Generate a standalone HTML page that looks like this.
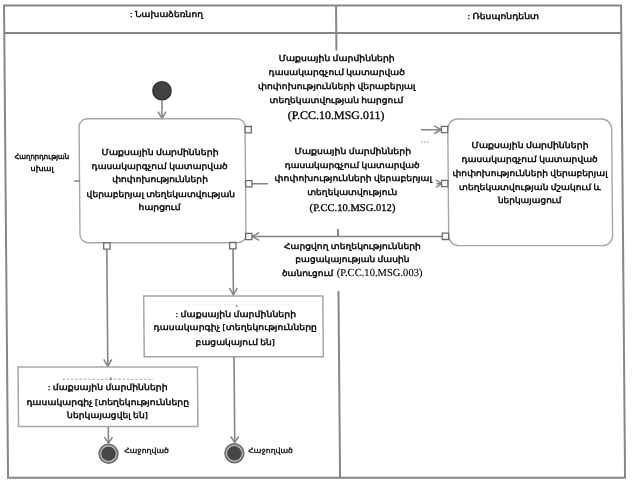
<!DOCTYPE html>
<html><head><meta charset="utf-8"><style>
html,body{margin:0;padding:0;background:#fff;width:632px;height:485px;overflow:hidden}
svg{display:block;filter:grayscale(100%) blur(0.3px)}
text{font-family:"Liberation Serif", serif;fill:#000;stroke:#000;stroke-width:0.42px;text-rendering:geometricPrecision}
</style></head><body>
<svg width="632" height="485" viewBox="0 0 632 485">
<rect width="632" height="485" fill="#fff"/>
<g transform="matrix(1 0 0.008475 1 0 0)">
<rect x="4" y="5.4" width="617" height="472.4" fill="none" stroke="#868686" stroke-width="2"/>
<line x1="4" y1="33" x2="621" y2="33" stroke="#868686" stroke-width="2"/>
<line x1="336" y1="5.4" x2="336" y2="50.6" stroke="#868686" stroke-width="2"/>
<line x1="336" y1="229" x2="336" y2="236.5" stroke="#868686" stroke-width="2"/>
<line x1="336" y1="291" x2="336" y2="477.8" stroke="#868686" stroke-width="2"/>
<circle cx="161.2" cy="90.7" r="9.2" fill="#424242" stroke="#2a2a2a" stroke-width="1.2"/>
<line x1="161.10" y1="100" x2="161.10" y2="118.5" stroke="#858585" stroke-width="1.6"/>
<polyline points="157.10,111.7 161.10,118.5 165.10,111.7" fill="none" stroke="#858585" stroke-width="1.5"/>
<rect x="78" y="118.8" width="166" height="123.9" rx="8" fill="none" stroke="#a6a6a6" stroke-width="1.4"/>
<rect x="446.7" y="119" width="163.9" height="126.6" rx="10" fill="none" stroke="#a6a6a6" stroke-width="1.4"/>
<line x1="72.80" y1="181" x2="78.00" y2="181" stroke="#858585" stroke-width="1.6"/>
<line x1="419.90" y1="129.7" x2="440.20" y2="129.7" stroke="#858585" stroke-width="1.6"/>
<polyline points="433.20,125.89999999999999 440.20,129.7 433.20,133.5" fill="none" stroke="#858585" stroke-width="1.5"/>
<line x1="250.70" y1="183.7" x2="266.30" y2="183.7" stroke="#858585" stroke-width="1.6"/>
<polyline points="434.40,179.89999999999998 439.90,183.7 434.40,187.5" fill="none" stroke="#858585" stroke-width="1.5"/>
<line x1="434.60" y1="183.7" x2="439.90" y2="183.7" stroke="#858585" stroke-width="1.6"/>
<line x1="250.20" y1="236.5" x2="440.30" y2="236.5" stroke="#858585" stroke-width="1.6"/>
<polyline points="257.20,232.7 250.20,236.5 257.20,240.3" fill="none" stroke="#858585" stroke-width="1.5"/>
<rect x="244.00" y="126.5" width="6.3" height="6.3" fill="#fff" stroke="#6a6a6a" stroke-width="1.3"/>
<rect x="244.10" y="180.6" width="6.3" height="6.3" fill="#fff" stroke="#6a6a6a" stroke-width="1.3"/>
<rect x="243.60" y="233.3" width="6.3" height="6.3" fill="#fff" stroke="#6a6a6a" stroke-width="1.3"/>
<rect x="101.60" y="242.9" width="6.3" height="6.3" fill="#fff" stroke="#6a6a6a" stroke-width="1.3"/>
<rect x="227.60" y="242.5" width="6.3" height="6.3" fill="#fff" stroke="#6a6a6a" stroke-width="1.3"/>
<rect x="440.30" y="126.3" width="6.3" height="6.3" fill="#fff" stroke="#6a6a6a" stroke-width="1.3"/>
<rect x="440.00" y="180.4" width="6.3" height="6.3" fill="#fff" stroke="#6a6a6a" stroke-width="1.3"/>
<rect x="440.30" y="233.2" width="6.3" height="6.3" fill="#fff" stroke="#6a6a6a" stroke-width="1.3"/>
<line x1="104.70" y1="249.2" x2="104.70" y2="366.6" stroke="#858585" stroke-width="1.6"/>
<polyline points="100.70,359.4 104.70,366.4 108.70,359.4" fill="none" stroke="#858585" stroke-width="1.5"/>
<line x1="230.90" y1="248.8" x2="230.90" y2="295.5" stroke="#858585" stroke-width="1.6"/>
<polyline points="226.90,287.8 230.90,294.8 234.90,287.8" fill="none" stroke="#858585" stroke-width="1.5"/>
<rect x="141.2" y="296" width="179.1" height="60.8" fill="none" stroke="#a6a6a6" stroke-width="1.5"/>
<rect x="14.9" y="367" width="179.4" height="59.6" fill="none" stroke="#a6a6a6" stroke-width="1.5"/>
<line x1="104.70" y1="427" x2="104.70" y2="443.2" stroke="#858585" stroke-width="1.6"/>
<polyline points="100.70,437.2 104.70,443.2 108.70,437.2" fill="none" stroke="#858585" stroke-width="1.5"/>
<line x1="231.00" y1="357" x2="231.00" y2="442.5" stroke="#858585" stroke-width="1.6"/>
<polyline points="227.00,436.5 231.00,442.5 235.00,436.5" fill="none" stroke="#858585" stroke-width="1.5"/>
<line x1="59.09" y1="379.3" x2="150.19" y2="379.3" stroke="#a8a8a8" stroke-width="1.1" stroke-dasharray="2.5 1.8"/>
<rect x="106.80" y="377.6" width="1.4" height="2.2" fill="#666"/>
<line x1="185.02" y1="304.6" x2="289.42" y2="304.6" stroke="#efefef" stroke-width="1" stroke-dasharray="2.5 1.5"/>
<rect x="233.41" y="305.2" width="1.4" height="1.6" fill="#666"/>
<line x1="419.80" y1="142" x2="428.80" y2="142" stroke="#aaa" stroke-width="1" stroke-dasharray="2 1"/>
<circle cx="104.66" cy="453.7" r="9.6" fill="#c8c8c8"/>
<circle cx="104.66" cy="453.7" r="9.3" fill="none" stroke="#707070" stroke-width="1.8"/>
<circle cx="104.66" cy="453.7" r="7.3" fill="#464646"/>
<circle cx="230.56" cy="453.3" r="9.6" fill="#c8c8c8"/>
<circle cx="230.56" cy="453.3" r="9.3" fill="none" stroke="#707070" stroke-width="1.8"/>
<circle cx="230.56" cy="453.3" r="7.3" fill="#464646"/>
<text transform="translate(0 16.50) scale(1 0.88) translate(0 -16.50)" x="129.98" y="16.50" font-size="9.5" textLength="72.9" lengthAdjust="spacingAndGlyphs">: Նախաձեռնող</text>
<text transform="translate(0 19.30) scale(1 0.88) translate(0 -19.30)" x="467.36" y="19.30" font-size="9.5" textLength="71.6" lengthAdjust="spacingAndGlyphs">: Ռեսպոնդենտ</text>
<text transform="translate(0 61.30) scale(1 0.88) translate(0 -61.30)" x="278.20" y="61.30" font-size="9.5" textLength="116.0" lengthAdjust="spacingAndGlyphs">Մաքսային մարմինների</text>
<text transform="translate(0 75.00) scale(1 0.88) translate(0 -75.00)" x="267.99" y="75.00" font-size="9.5" textLength="136.2" lengthAdjust="spacingAndGlyphs">դասակարգչում կատարված</text>
<text transform="translate(0 89.40) scale(1 0.88) translate(0 -89.40)" x="257.17" y="89.40" font-size="9.5" textLength="157.7" lengthAdjust="spacingAndGlyphs">փոփոխությունների վերաբերյալ</text>
<text transform="translate(0 102.90) scale(1 0.88) translate(0 -102.90)" x="268.65" y="102.90" font-size="9.5" textLength="133.7" lengthAdjust="spacingAndGlyphs">տեղեկատվության հարցում</text>
<text style="stroke-width:0.3px" x="286.81" y="119.30" font-size="11.6" textLength="96.6" lengthAdjust="spacingAndGlyphs">(P.CC.10.MSG.011)</text>
<text transform="translate(0 153.60) scale(1 0.88) translate(0 -153.60)" x="293.22" y="153.60" font-size="9.5" textLength="116.6" lengthAdjust="spacingAndGlyphs">Մաքսային մարմինների</text>
<text transform="translate(0 167.60) scale(1 0.88) translate(0 -167.60)" x="283.30" y="167.60" font-size="9.5" textLength="134.9" lengthAdjust="spacingAndGlyphs">դասակարգչում կատարված</text>
<text transform="translate(0 180.70) scale(1 0.88) translate(0 -180.70)" x="273.09" y="180.70" font-size="9.5" textLength="157.4" lengthAdjust="spacingAndGlyphs">փոփոխությունների վերաբերյալ</text>
<text transform="translate(0 194.70) scale(1 0.88) translate(0 -194.70)" x="305.57" y="194.70" font-size="9.5" textLength="90.0" lengthAdjust="spacingAndGlyphs">տեղեկատվություն</text>
<text style="stroke-width:0.3px" x="307.84" y="210.70" font-size="10.4" textLength="85.8" lengthAdjust="spacingAndGlyphs">(P.CC.10.MSG.012)</text>
<text transform="translate(0 248.50) scale(1 0.88) translate(0 -248.50)" x="281.82" y="248.50" font-size="9.5" textLength="137.0" lengthAdjust="spacingAndGlyphs">Հարցվող տեղեկությունների</text>
<text transform="translate(0 261.70) scale(1 0.88) translate(0 -261.70)" x="293.11" y="261.70" font-size="9.5" textLength="114.2" lengthAdjust="spacingAndGlyphs">բացակայության մասին</text>
<text transform="translate(0 275.90) scale(1 0.88) translate(0 -275.90)" x="279.58" y="275.90" font-size="9.5" textLength="51.5" lengthAdjust="spacingAndGlyphs">ծանուցում</text>
<text style="stroke-width:0.12px" x="334.38" y="276.30" font-size="10.7" textLength="85.8" lengthAdjust="spacingAndGlyphs">(P.CC.10.MSG.003)</text>
<text transform="translate(0 154.60) scale(1 0.88) translate(0 -154.60)" x="100.21" y="154.60" font-size="9.5" textLength="117.1" lengthAdjust="spacingAndGlyphs">Մաքսային մարմինների</text>
<text transform="translate(0 168.60) scale(1 0.88) translate(0 -168.60)" x="90.19" y="168.60" font-size="9.5" textLength="136.1" lengthAdjust="spacingAndGlyphs">դասակարգչում կատարված</text>
<text transform="translate(0 182.30) scale(1 0.88) translate(0 -182.30)" x="110.68" y="182.30" font-size="9.5" textLength="95.7" lengthAdjust="spacingAndGlyphs">փոփոխությունների</text>
<text transform="translate(0 196.60) scale(1 0.88) translate(0 -196.60)" x="84.96" y="196.60" font-size="9.5" textLength="148.5" lengthAdjust="spacingAndGlyphs">վերաբերյալ տեղեկատվության</text>
<text transform="translate(0 209.80) scale(1 0.88) translate(0 -209.80)" x="136.84" y="209.80" font-size="9.5" textLength="42.0" lengthAdjust="spacingAndGlyphs">հարցում</text>
<text transform="translate(0 147.90) scale(1 0.88) translate(0 -147.90)" x="470.27" y="147.90" font-size="9.5" textLength="117.1" lengthAdjust="spacingAndGlyphs">Մաքսային մարմինների</text>
<text transform="translate(0 161.90) scale(1 0.88) translate(0 -161.90)" x="460.25" y="161.90" font-size="9.5" textLength="136.1" lengthAdjust="spacingAndGlyphs">դասակարգչում կատարված</text>
<text transform="translate(0 176.00) scale(1 0.88) translate(0 -176.00)" x="451.03" y="176.00" font-size="9.5" textLength="155.1" lengthAdjust="spacingAndGlyphs">փոփոխությունների վերաբերյալ</text>
<text transform="translate(0 190.00) scale(1 0.88) translate(0 -190.00)" x="457.51" y="190.00" font-size="9.5" textLength="141.9" lengthAdjust="spacingAndGlyphs">տեղեկատվության մշակում և</text>
<text transform="translate(0 203.20) scale(1 0.88) translate(0 -203.20)" x="496.20" y="203.20" font-size="9.5" textLength="63.5" lengthAdjust="spacingAndGlyphs">ներկայացում</text>
<text transform="translate(0 159.40) scale(1 0.88) translate(0 -159.40)" x="13.07" y="159.40" font-size="8.5" textLength="54.8" lengthAdjust="spacingAndGlyphs">Հաղորդության</text>
<text transform="translate(0 171.30) scale(1 0.88) translate(0 -171.30)" x="29.07" y="171.30" font-size="8.5" textLength="23.2" lengthAdjust="spacingAndGlyphs">սխալ</text>
<text transform="translate(0 317.10) scale(1 0.88) translate(0 -317.10)" x="172.94" y="317.10" font-size="9.5" textLength="120.6" lengthAdjust="spacingAndGlyphs">: մաքսային մարմինների</text>
<text transform="translate(0 330.30) scale(1 0.88) translate(0 -330.30)" x="150.82" y="330.30" font-size="9.5" textLength="163.3" lengthAdjust="spacingAndGlyphs">դասակարգիչ [տեղեկությունները</text>
<text transform="translate(0 345.30) scale(1 0.88) translate(0 -345.30)" x="192.70" y="345.30" font-size="9.5" textLength="79.3" lengthAdjust="spacingAndGlyphs">բացակայում են]</text>
<text transform="translate(0 390.40) scale(1 0.88) translate(0 -390.40)" x="44.51" y="390.40" font-size="9.5" textLength="119.9" lengthAdjust="spacingAndGlyphs">: մաքսային մարմինների</text>
<text transform="translate(0 404.50) scale(1 0.88) translate(0 -404.50)" x="22.99" y="404.50" font-size="9.5" textLength="162.6" lengthAdjust="spacingAndGlyphs">դասակարգիչ [տեղեկությունները</text>
<text transform="translate(0 417.90) scale(1 0.88) translate(0 -417.90)" x="63.58" y="417.90" font-size="9.5" textLength="80.7" lengthAdjust="spacingAndGlyphs">ներկայացվել են]</text>
<text style="stroke-width:0.3px" transform="translate(0 453.10) scale(1 0.88) translate(0 -453.10)" x="120.38" y="453.10" font-size="8.4" textLength="44.6" lengthAdjust="spacingAndGlyphs">Հաջողված</text>
<text style="stroke-width:0.3px" transform="translate(0 452.60) scale(1 0.88) translate(0 -452.60)" x="244.49" y="452.60" font-size="8.4" textLength="44.6" lengthAdjust="spacingAndGlyphs">Հաջողված</text>
</g>
</svg>
</body></html>
